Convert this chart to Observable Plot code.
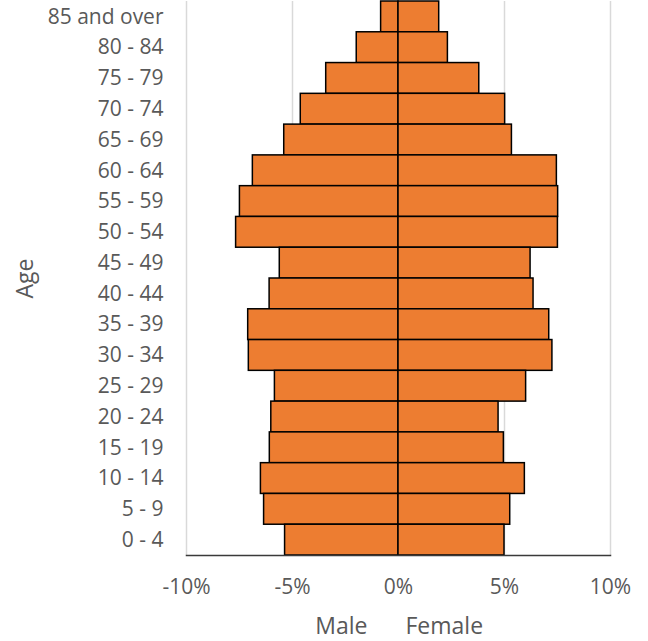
<!DOCTYPE html>
<html>
<head>
<meta charset="utf-8">
<script src="https://cdn.jsdelivr.net/npm/d3@7"></script>
<script src="https://cdn.jsdelivr.net/npm/@observablehq/plot@0.6"></script>
<style>
  html, body { margin: 0; padding: 0; background: #fff; }
</style>
</head>
<body>
<div id="chart"></div>
<script>
const ageGroups = ["85 and over", "80 - 84", "75 - 79", "70 - 74", "65 - 69", "60 - 64", "55 - 59", "50 - 54", "45 - 49", "40 - 44", "35 - 39", "30 - 34", "25 - 29", "20 - 24", "15 - 19", "10 - 14", "5 - 9", "0 - 4"];
const malePct = [0.82, 1.97, 3.41, 4.61, 5.39, 6.87, 7.48, 7.66, 5.60, 6.08, 7.09, 7.06, 5.83, 6.00, 6.07, 6.49, 6.34, 5.35];
const femalePct = [1.92, 2.33, 3.81, 5.03, 5.35, 7.47, 7.53, 7.52, 6.23, 6.37, 7.11, 7.26, 6.02, 4.72, 4.97, 5.96, 5.27, 5.00];
const xTicks = [-10, -5, 0, 5, 10];
const xTitleLeft = "Male";
const xTitleRight = "Female";
const yTitle = "Age";

const rows = [];
ageGroups.forEach((age, i) => {
  rows.push({age, sex: "Male", value: -malePct[i]});
  rows.push({age, sex: "Female", value: femalePct[i]});
});

const textColor = "#595959";

const chart = Plot.plot({
  width: 648,
  height: 641,
  marginTop: 1,
  marginBottom: 86,
  marginLeft: 186,
  marginRight: 38,
  style: {fontFamily: "'Open Sans', sans-serif", fontSize: "21px", color: textColor, background: "white", overflow: "visible"},
  x: {domain: [-10, 10], label: null},
  y: {type: "band", domain: ageGroups, padding: 0, round: false, label: null},
  marks: [
    Plot.gridX(xTicks, {stroke: "#d9d9d9", strokeOpacity: 1, strokeWidth: 1.5}),
    Plot.barX(rows, {y: "age", x: "value", fill: "#ED7D31", stroke: "#000", strokeWidth: 1.5}),
    Plot.frame({anchor: "bottom", stroke: "#3a3a3a", strokeWidth: 1.5}),
    Plot.axisX(xTicks, {tickSize: 0, tickPadding: 24, tickFormat: d => d + "%", label: null, fill: textColor, fontSize: 21}),
    Plot.axisY({tickSize: 0, tickPadding: 23, label: null, fill: textColor, fontSize: 21}),
    Plot.text([xTitleLeft], {text: d => d, frameAnchor: "bottom", textAnchor: "end", lineAnchor: "middle", dx: -31, dy: 71.5, fontSize: 23, fill: textColor}),
    Plot.text([xTitleRight], {text: d => d, frameAnchor: "bottom", textAnchor: "start", lineAnchor: "middle", dx: 7, dy: 71.5, fontSize: 23, fill: textColor}),
    Plot.text([yTitle], {text: d => d, frameAnchor: "left", rotate: -90, textAnchor: "middle", lineAnchor: "middle", dx: -160.5, fontSize: 23, fill: textColor})
  ]
});
document.getElementById("chart").appendChild(chart);
</script>
</body>
</html>
